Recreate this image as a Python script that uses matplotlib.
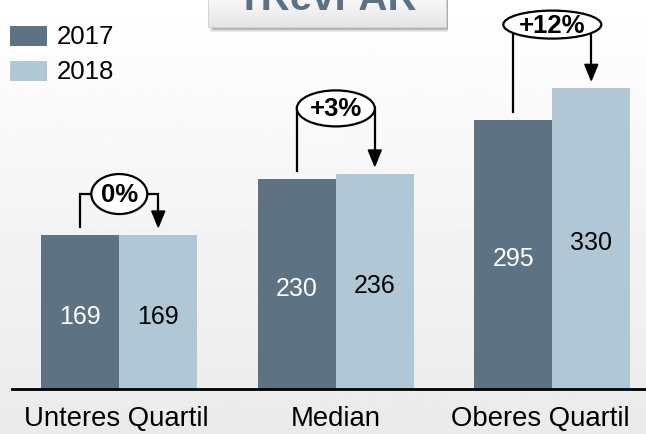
import matplotlib.pyplot as plt
import numpy as np
from matplotlib.patches import Rectangle, Ellipse, Polygon

plt.rcParams['font.family'] = ['Liberation Sans', 'DejaVu Sans']

categories = ['Unteres Quartil', 'Median', 'Oberes Quartil']
years = ['2017', '2018']
values_2017 = [169, 230, 295]
values_2018 = [169, 236, 330]
changes = ['0%', '+3%', '+12%']
title = 'TRevPAR'

dark = '#5d7383'
light = '#b0c8d5'
title_col = '#5b7285'

W, H = 646, 435
# pixel <-> data mapping
px_x = 216.5      # px per category step
x0_px = 119.3     # px of first category centre
px_y = 0.911      # px per value unit
base_px = 390

fig = plt.figure(figsize=(W / 100, H / 100), dpi=100)

# background / decoration axes in pixel coords
bg = fig.add_axes([0, 0, 1, 1], zorder=0)
bg.set_xlim(0, W)
bg.set_ylim(H, 0)
bg.axis('off')
grad = np.linspace(1.0, 0.918, 200)[:, None]
bg.imshow(grad, cmap='gray', vmin=0, vmax=1, extent=(0, W, H, 0), aspect='auto')

# title box with shadow
for k, a in enumerate([0.10, 0.12, 0.16, 0.22]):
    bg.add_patch(Rectangle((210 + k, -5), 238 - k, 38 - k, color='#555555', alpha=a, lw=0))
bg.imshow(np.linspace(0.985, 0.90, 50)[:, None], cmap='gray', vmin=0, vmax=1,
          extent=(208, 446, 28, -5), aspect='auto', zorder=3)
bg.add_patch(Rectangle((208, -5), 238, 33, fill=False, ec='#d4d4d4', lw=0.8, zorder=4))
bg.set_xlim(0, W)
bg.set_ylim(H, 0)
bg.text(327, 10, title, ha='center', va='baseline', fontsize=29,
        fontweight='bold', color=title_col, zorder=5)

# legend
for yy, col, lab in [(27, dark, years[0]), (62, light, years[1])]:
    bg.add_patch(Rectangle((10, yy), 37, 20, color=col, lw=0, zorder=3))
    bg.text(57, yy + 10, lab, ha='left', va='center', fontsize=18.5, color='black')

# main data axes
ax = fig.add_axes([0, 0, 1, 1], zorder=1)
ax.patch.set_visible(False)
ax.set_xlim(-x0_px / px_x, (W - x0_px) / px_x)
ax.set_ylim(-(H - base_px) / px_y, base_px / px_y)
ax.axis('off')

x = np.arange(len(categories))
bw = 0.36
ax.bar(x - bw / 2, values_2017, bw, color=dark, lw=0)
ax.bar(x + bw / 2, values_2018, bw, color=light, lw=0)

dy = 1 / px_y  # one pixel in value units
dx = 1 / px_x
label_shift = [-3, 0, -12]  # px, keeps last label inside the frame
for i in range(len(categories)):
    a, b = values_2017[i], values_2018[i]
    ax.text(x[i] - bw / 2, a / 2 - 4, str(a), ha='center', va='center',
            fontsize=18, color='white')
    ax.text(x[i] + bw / 2, b / 2 - 4, str(b), ha='center', va='center',
            fontsize=18, color='black')
    ax.text(x[i] + label_shift[i] * dx, -29 * dy, categories[i], ha='center',
            va='center', fontsize=19.8)

# change brackets
ell_gap = [45, 72, 70]
ell_size = [(56, 40), (78, 36), (98, 28)]
for i in range(len(categories)):
    a, b = values_2017[i], values_2018[i]
    xl, xr = x[i] - bw / 2, x[i] + bw / 2
    ey = max(a, b) + ell_gap[i]
    ex = x[i]
    tip = b + 8 * dy
    head_l, head_w = 16 * dy, 6.5 * dx
    ax.plot([xl, xl, ex, xr, xr], [a + 8 * dy, ey, ey, ey, tip + head_l],
            color='black', lw=1.6, solid_joinstyle='miter', zorder=4)
    ax.add_patch(Polygon([[xr - head_w, tip + head_l], [xr + head_w, tip + head_l], [xr, tip]],
                         closed=True, color='black', zorder=4))
    ew, eh = ell_size[i]
    ax.add_patch(Ellipse((ex, ey), ew * dx, eh * dy, fc='white', ec='black', lw=1.6, zorder=5))
    ax.text(ex, ey, changes[i], ha='center', va='center', fontsize=18.5,
            fontweight='bold', zorder=6)

ax.plot([12 / px_x + ax.get_xlim()[0], ax.get_xlim()[1]], [0, 0], color='black', lw=2, zorder=3)

fig.savefig('out.png', dpi=100)
